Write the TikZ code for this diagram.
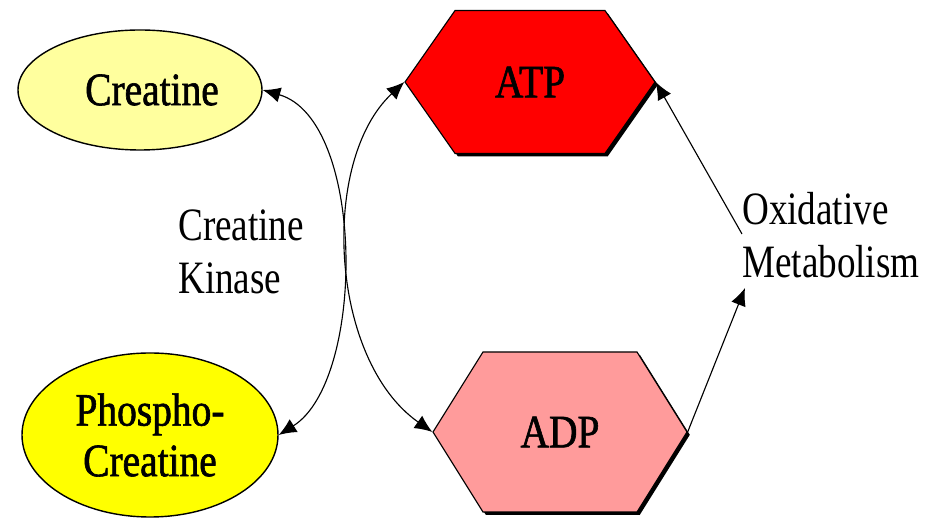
\documentclass[tikz,border=0pt]{standalone}
\usepackage{fontspec}
\setmainfont[FakeStretch=0.8]{Liberation Serif}
\newfontfamily\molfont[FakeStretch=0.85, FakeBold=1.3]{Liberation Serif}
\usepackage{tikz}
\usepackage{xcolor}
\usetikzlibrary{shapes.geometric, shapes.symbols, shadows, arrows.meta, calc}

\definecolor{crfill}{RGB}{255,255,158}
\definecolor{pcrfill}{RGB}{255,255,0}
\definecolor{atpfill}{RGB}{255,0,0}
\definecolor{adpfill}{RGB}{255,155,155}

\begin{document}
\begin{tikzpicture}[
        >={Latex[length=4.4mm, width=3.8mm]},
        every node/.style={font=\fontsize{33}{38}\selectfont},
        mol/.style={ellipse, draw=black, line width=1pt, align=center, inner sep=0pt, font=\molfont\fontsize{33}{36}\selectfont},
        nucl/.style={signal, signal to=east and west, draw=black, line width=0.8pt, inner sep=0pt, font=\molfont\fontsize{33}{38}\selectfont,
            drop shadow={shadow xshift=2pt, shadow yshift=-2pt, opacity=1, fill=black}},
        link/.style={line width=0.8pt}
    ]
                        \useasboundingbox (0, 0) rectangle (23.425, 13.05);

                        \node[mol, fill=crfill, minimum width=6.1cm, minimum height=3cm] (cr) at (3.5, 10.8) {\hspace{0.6cm}Creatine};
                        \node[mol, fill=pcrfill, minimum width=6.4cm, minimum height=4.1cm] (pcr) at (3.75, 2.175) {Phospho-\\Creatine};
                        \node[nucl, fill=atpfill, minimum width=6.25cm, minimum height=3.575cm, signal pointer angle=110] (atp) at (13.25, 11.0) {ATP};
                        \node[nucl, fill=adpfill, minimum width=6.35cm, minimum height=4cm, signal pointer angle=116] (adp) at (14.0, 2.25) {ADP};

                        \node[align=left, anchor=north west, inner sep=0pt] (ck) at (4.45, 7.82) {Creatine\\Kinase};
                        \node[align=left, anchor=north west, inner sep=0pt] (ox) at (18.55, 8.25) {Oxidative\\Metabolism};
                        \coordinate (oxin) at (18.625, 5.85);
                        \coordinate (oxout) at (18.55, 7.2);

                        \draw[link]
                        (cr.east) edge[<->, out=-16, in=32, out distance=2.68cm, in distance=2.57cm] (pcr.east)
                        (atp.west) edge[<->, out=-137, in=145, out distance=2.9cm, in distance=3.14cm] (adp.west)
                        (adp.east) edge[->] (oxin)
                        (oxout) edge[->] (atp.east);
                    \end{tikzpicture}
\end{document}
